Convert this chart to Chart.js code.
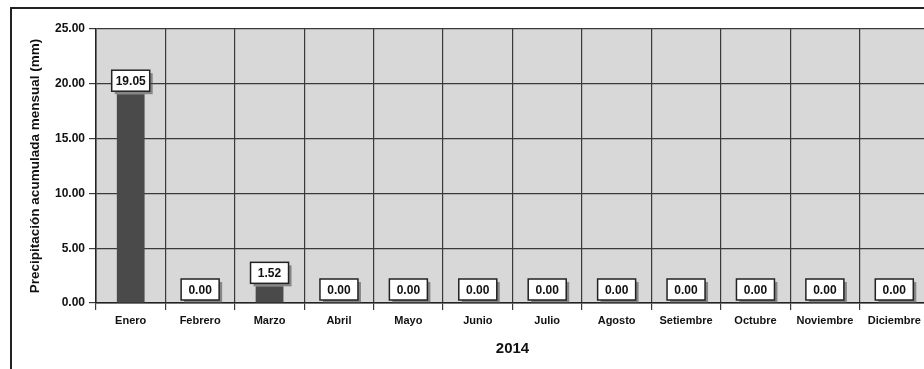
<!DOCTYPE html>
<html>
<head>
<meta charset="utf-8">
<script src="https://cdn.jsdelivr.net/npm/chart.js@4.4.1/dist/chart.umd.min.js"></script>
<style>
  html, body { margin: 0; padding: 0; background: #fff; overflow: hidden; }
  #wrap { position: absolute; left: 0; top: 0; width: 940px; height: 369px; }
</style>
</head>
<body>
<div id="wrap"><canvas id="rainChart" width="940" height="369"></canvas></div>
<script>
// Data
const months = ['Enero', 'Febrero', 'Marzo', 'Abril', 'Mayo', 'Junio', 'Julio', 'Agosto', 'Setiembre', 'Octubre', 'Noviembre', 'Diciembre'];
const rainfall = [19.05, 0.00, 1.52, 0.00, 0.00, 0.00, 0.00, 0.00, 0.00, 0.00, 0.00, 0.00];
const yearLabel = '2014';
const yTitle = 'Precipitación acumulada mensual (mm)';

const FONT = '"Liberation Sans", Arial, sans-serif';

// Frame + grey plot background
const backdrop = {
    id: 'backdrop',
    beforeDraw(chart) {
        const { ctx, chartArea: a } = chart;
        ctx.save();
        ctx.fillStyle = '#d8d8d8';
        ctx.fillRect(a.left, a.top, a.right - a.left, a.bottom - a.top);
        ctx.strokeStyle = '#222';
        ctx.lineWidth = 2;
        ctx.strokeRect(11, 8, 1000, 500);
        ctx.restore();
    }
};

// Value boxes above bars
const valueBoxes = {
    id: 'valueBoxes',
    afterDatasetsDraw(chart) {
        const { ctx } = chart;
        const meta = chart.getDatasetMeta(0);
        ctx.save();
        ctx.font = 'bold 12px ' + FONT;
        ctx.textAlign = 'center';
        ctx.textBaseline = 'middle';
        meta.data.forEach((bar, i) => {
            const w = 38, h = 21;
            const x = bar.x - w / 2;
            const y = bar.y - 3 - h;
            ctx.fillStyle = 'rgba(80,80,80,0.6)';
            ctx.fillRect(x + 3, y + 3, w, h);
            ctx.fillStyle = '#fff';
            ctx.fillRect(x, y, w, h);
            ctx.strokeStyle = '#222';
            ctx.lineWidth = 1.5;
            ctx.strokeRect(x, y, w, h);
            ctx.fillStyle = '#111';
            ctx.fillText(rainfall[i].toFixed(2), bar.x, y + h / 2 + 1);
        });
        ctx.restore();
    }
};

const ctx = document.getElementById('rainChart').getContext('2d');
const rainChart = new Chart(ctx, {
    type: 'bar',
    data: {
        labels: months,
        datasets: [{
            data: rainfall,
            backgroundColor: '#4a4a4a',
            borderWidth: 0,
            barPercentage: 0.4,
            categoryPercentage: 1
        }]
    },
    options: {
        responsive: false,
        animation: false,
        layout: { padding: { left: 0, top: 29, right: 11, bottom: 0 } },
        plugins: { legend: { display: false }, tooltip: { enabled: false } },
        scales: {
            y: {
                min: 0,
                max: 25,
                ticks: {
                    stepSize: 5,
                    color: '#111',
                    font: { family: FONT, size: 12, weight: 'bold' },
                    padding: 4,
                    callback: (v) => v.toFixed(2)
                },
                grid: { color: '#3a3a3a', lineWidth: 1.2, tickLength: 7 },
                border: { color: '#222', width: 1.5 },
                title: {
                    display: true,
                    text: yTitle,
                    color: '#111',
                    font: { family: FONT, size: 13.5, weight: 'bold' },
                    padding: { top: 27, bottom: 0 }
                },
                afterFit: (s) => { s.width = 96; }
            },
            x: {
                ticks: {
                    color: '#111',
                    font: { family: FONT, size: 11, weight: 'bold' },
                    padding: 4,
                    maxRotation: 0,
                    autoSkip: false
                },
                grid: { color: '#3a3a3a', lineWidth: 1.2, offset: true, tickLength: 7 },
                border: { color: '#222', width: 1.5 },
                title: {
                    display: true,
                    text: yearLabel,
                    color: '#111',
                    font: { family: FONT, size: 15, weight: 'bold' },
                    padding: { top: 4, bottom: 11 }
                },
                afterFit: (s) => { s.height = 66; }
            }
        }
    },
    plugins: [backdrop, valueBoxes]
});
</script>
</body>
</html>
